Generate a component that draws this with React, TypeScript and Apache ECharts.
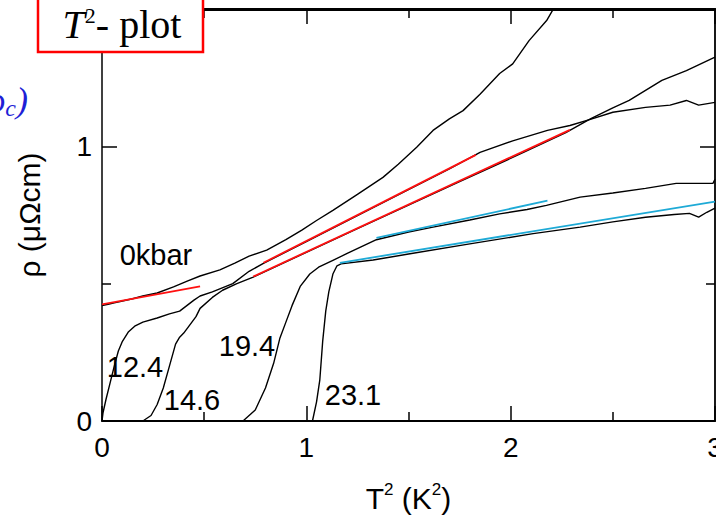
import React, { useEffect, useRef } from "react";
import * as echarts from "echarts";

// T^2 (K^2), rho (µΩcm) pairs
const curve0kbar: [number, number][] = [
  [0, 0.42], [0.03, 0.425], [0.06, 0.43], [0.1, 0.437], [0.15, 0.445], [0.2, 0.455],
  [0.27, 0.466], [0.35, 0.488], [0.42, 0.51], [0.48, 0.528], [0.577, 0.55], [0.65, 0.575],
  [0.72, 0.6], [0.806, 0.622], [0.9, 0.66], [0.978, 0.695], [1.05, 0.73], [1.13, 0.767],
  [1.25, 0.825], [1.375, 0.887], [1.45, 0.935], [1.54, 0.997], [1.62, 1.058], [1.7, 1.1],
  [1.767, 1.13], [1.85, 1.19], [1.946, 1.265], [2.01, 1.3], [2.09, 1.385], [2.176, 1.458],
  [2.205, 1.495], [2.22, 1.52],
];
const curve12p4: [number, number][] = [
  [0, 0.0], [0.005, 0.03], [0.02, 0.08], [0.04, 0.14], [0.06, 0.2], [0.08, 0.255],
  [0.1, 0.29], [0.13, 0.325], [0.16, 0.345], [0.2, 0.36], [0.27, 0.375], [0.33, 0.39],
  [0.38, 0.4], [0.45, 0.44], [0.48, 0.455], [0.54, 0.47], [0.64, 0.5], [0.72, 0.545],
  [0.79, 0.574], [1.0, 0.653], [1.25, 0.748], [1.5, 0.842], [1.7, 0.918], [1.83, 0.97],
  [1.85, 0.978], [2.01, 1.02], [2.18, 1.058], [2.29, 1.076], [2.39, 1.098], [2.5, 1.124],
  [2.66, 1.142], [2.78, 1.15], [2.86, 1.167], [2.92, 1.15], [3.0, 1.16],
];
const curve14p6: [number, number][] = [
  [0, 0], [0.2, 0.0], [0.24, 0.02], [0.27, 0.06], [0.3, 0.12], [0.33, 0.2], [0.36, 0.28],
  [0.38, 0.305], [0.4, 0.32], [0.46, 0.38], [0.48, 0.41], [0.54, 0.45], [0.59, 0.476],
  [0.66, 0.5], [0.74, 0.524], [1.0, 0.614], [1.25, 0.7], [1.5, 0.786], [1.75, 0.872],
  [1.85, 0.905], [2.06, 0.977], [2.27, 1.05], [2.39, 1.1], [2.5, 1.14], [2.58, 1.167],
  [2.74, 1.24], [2.86, 1.276], [3.0, 1.325],
];
const curve19p4: [number, number][] = [
  [0, 0], [0.69, 0.0], [0.75, 0.04], [0.8, 0.12], [0.84, 0.21], [0.87, 0.3], [0.9, 0.36],
  [0.93, 0.42], [0.97, 0.49], [1.017, 0.535], [1.06, 0.56], [1.13, 0.585], [1.2, 0.61],
  [1.343, 0.66], [1.5, 0.688], [1.62, 0.706], [1.8, 0.732], [1.946, 0.754], [2.08, 0.77],
  [2.175, 0.785], [2.34, 0.815], [2.5, 0.83], [2.66, 0.847], [2.81, 0.865], [2.99, 0.865],
  [3.0, 0.88],
];
const curve23p1: [number, number][] = [
  [0, 0], [1.03, 0], [1.05, 0.07], [1.066, 0.15], [1.08, 0.29], [1.095, 0.4], [1.11, 0.47],
  [1.13, 0.535], [1.15, 0.565], [1.17, 0.572], [1.327, 0.586], [1.5, 0.608], [1.785, 0.643],
  [2.11, 0.682], [2.34, 0.706], [2.5, 0.725], [2.66, 0.742], [2.8, 0.752], [2.875, 0.756],
  [2.92, 0.742], [2.96, 0.76], [3.0, 0.775],
];
// linear T^2 fits
const fitRed0kbar: [number, number][] = [[0, 0.425], [0.48, 0.49]];
const fitRed12p4: [number, number][] = [[0.79, 0.576], [1.83, 0.969]];
const fitRed14p6: [number, number][] = [[0.74, 0.526], [2.29, 1.06]];
const fitBlue19p4: [number, number][] = [[1.343, 0.667], [2.18, 0.802]];
const fitBlue23p1: [number, number][] = [[1.164, 0.576], [3.0, 0.799]];

const pressureLabels = ["0kbar", "12.4", "14.6", "19.4", "23.1"];
const xTickLabels = ["0", "1", "2", "3"];
const yTickLabels = ["0", "1"];

const SANS = "'Liberation Sans', Arial, sans-serif";
const SERIF = "'Liberation Serif', 'Times New Roman', serif";

export default function App() {
  const ref = useRef<HTMLDivElement>(null);
  useEffect(() => {
    if (!ref.current) return;
    const chart = echarts.init(ref.current, undefined, { renderer: "svg" });
    const black = (name: string, data: [number, number][]) => ({
      name, type: "line", data, showSymbol: false, symbol: "none",
      lineStyle: { color: "#000", width: 1.4 }, z: 2,
    });
    const fit = (name: string, data: [number, number][], color: string) => ({
      name, type: "line", data, showSymbol: false, symbol: "none",
      lineStyle: { color, width: 1.8 }, z: 3,
    });
    const axisCommon = {
      axisTick: { show: true, inside: true, length: 15, lineStyle: { color: "#000", width: 1.5 } },
      minorTick: { show: true, splitNumber: 2, length: 9, lineStyle: { color: "#000", width: 1.5 } },
      splitLine: { show: false },
      minorSplitLine: { show: false },
    };
    const labelText = (text: string, x: number, y: number) => ({
      type: "text", x, y, z: 50,
      style: {
        text, fill: "#000", font: `29px ${SANS}`,
        textAlign: "center", textVerticalAlign: "middle",
      },
    });
    chart.setOption({
      animation: false,
      backgroundColor: "#fff",
      grid: {
        left: 102, top: 9, right: 1, bottom: 100,
        containLabel: false, outerBoundsMode: "none",
      },
      xAxis: [
        {
          type: "value", min: 0, max: 3, interval: 1, position: "bottom",
          name: "{a|T}{s|2}{a| (K}{s|2}{a|)}", nameLocation: "middle", nameGap: 60,
          nameTextStyle: {
            rich: {
              a: { fontFamily: SANS, fontSize: 30, color: "#000", lineHeight: 34 },
              s: { fontFamily: SANS, fontSize: 17, color: "#000", verticalAlign: "top", lineHeight: 34 },
            },
          },
          axisLine: { show: true, onZero: false, lineStyle: { color: "#000", width: 2 } },
          axisLabel: {
            fontFamily: SANS, fontSize: 28, color: "#000", margin: 12,
            formatter: (v: number) => xTickLabels[Math.round(v)] ?? "",
          },
          ...axisCommon,
        },
        {
          type: "value", min: 0, max: 3, interval: 1, position: "top",
          axisLine: { show: true, onZero: false, lineStyle: { color: "#000", width: 3 } },
          axisLabel: { show: false },
          ...axisCommon,
        },
      ],
      yAxis: [
        {
          type: "value", min: 0, max: 1.5, interval: 1, position: "left",
          name: "ρ (μΩcm)", nameLocation: "middle", nameGap: 58, nameRotate: 90,
          nameTextStyle: { fontFamily: SANS, fontSize: 30, color: "#000" },
          axisLine: { show: true, onZero: false, lineStyle: { color: "#000", width: 1.5 } },
          axisLabel: {
            fontFamily: SANS, fontSize: 28, color: "#000", margin: 10,
            formatter: (v: number) => yTickLabels[Math.round(v)] ?? "",
          },
          ...axisCommon,
        },
        {
          type: "value", min: 0, max: 1.5, interval: 1, position: "right",
          axisLine: { show: true, onZero: false, lineStyle: { color: "#000", width: 1.8 } },
          axisLabel: { show: false },
          ...axisCommon,
        },
      ],
      series: [
        black(pressureLabels[0], curve0kbar),
        black(pressureLabels[1], curve12p4),
        black(pressureLabels[2], curve14p6),
        black(pressureLabels[3], curve19p4),
        black(pressureLabels[4], curve23p1),
        fit("fit " + pressureLabels[0], fitRed0kbar, "#ff1010"),
        fit("fit " + pressureLabels[1], fitRed12p4, "#ff1010"),
        fit("fit " + pressureLabels[2], fitRed14p6, "#ff1010"),
        fit("fit " + pressureLabels[3], fitBlue19p4, "#1eaad6"),
        fit("fit " + pressureLabels[4], fitBlue23p1, "#1eaad6"),
      ],
      graphic: [
        labelText(pressureLabels[0], 156, 255),
        labelText(pressureLabels[1], 135, 367),
        labelText(pressureLabels[2], 192, 400),
        labelText(pressureLabels[3], 247, 346),
        labelText(pressureLabels[4], 353, 395),
        {
          type: "rect", z: 100,
          shape: { x: 38, y: -6, width: 165, height: 58 },
          style: { fill: "#fff", stroke: "#ff0000", lineWidth: 2.5 },
        },
        {
          type: "text", z: 101, x: 122, y: 24,
          style: {
            text: "{it|T}{s|2}{rm|- plot}",
            textAlign: "center", textVerticalAlign: "middle",
            rich: {
              it: { fontFamily: SERIF, fontStyle: "italic", fontSize: 40, fill: "#000", lineHeight: 40 },
              s: { fontFamily: SERIF, fontSize: 22, fill: "#000", verticalAlign: "top", lineHeight: 40 },
              rm: { fontFamily: SERIF, fontSize: 40, fill: "#000", lineHeight: 40 },
            },
          },
        },
        {
          type: "text", z: 101, x: 28, y: 100,
          style: {
            text: "{it|ρ}{sub|c}{it|)}",
            textAlign: "right", textVerticalAlign: "middle",
            rich: {
              it: { fontFamily: SERIF, fontStyle: "italic", fontSize: 36, fill: "#1f1fd6", lineHeight: 40 },
              sub: { fontFamily: SERIF, fontStyle: "italic", fontSize: 24, fill: "#1f1fd6", verticalAlign: "bottom", lineHeight: 40 },
            },
          },
        },
      ],
    });
    return () => chart.dispose();
  }, []);
  return (
    <div
      ref={ref}
      style={{ position: "fixed", left: 0, top: 0, width: 716, height: 521, background: "#fff" }}
    />
  );
}
